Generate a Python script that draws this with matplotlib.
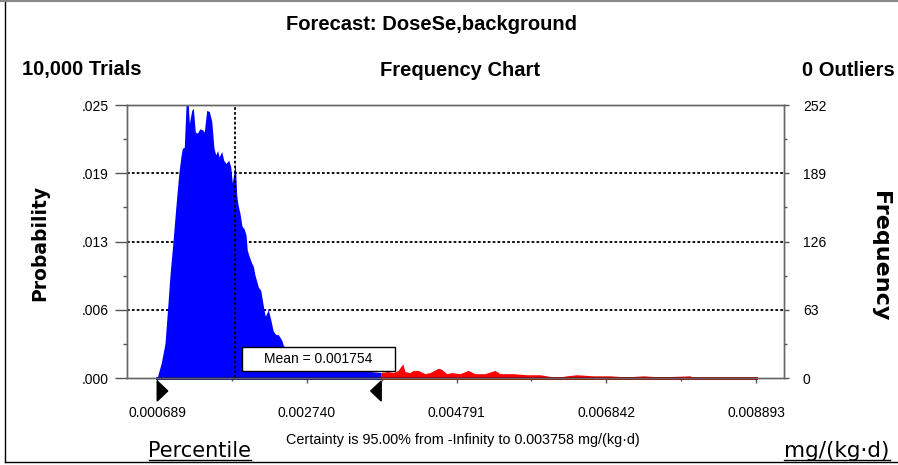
import numpy as np
import matplotlib.pyplot as plt
from matplotlib.patches import Polygon, Rectangle
from matplotlib.lines import Line2D
from matplotlib.transforms import blended_transform_factory

# outline of the forecast frequency chart
# (value in mg/(kg.d), frequency out of 10,000 trials)
blue_x = [0.000689, 0.000707, 0.000741, 0.000768, 0.000796, 0.000830, 0.000864,
          0.000905, 0.000947, 0.000985, 0.001015, 0.001033, 0.001060, 0.001084,
          0.001115, 0.001129, 0.001162, 0.001184, 0.001211, 0.001238, 0.001275,
          0.001312, 0.001334, 0.001367, 0.001403, 0.001436, 0.001467, 0.001491,
          0.001518, 0.001536, 0.001573, 0.001600, 0.001632, 0.001669, 0.001696,
          0.001718, 0.001759, 0.001778, 0.001796, 0.001823, 0.001851, 0.001878,
          0.001906, 0.001923, 0.001951, 0.001984, 0.002006, 0.002029, 0.002074,
          0.002107, 0.002152, 0.002170, 0.002211, 0.002244, 0.002280, 0.002317,
          0.002348, 0.002395, 0.002417, 0.002508, 0.002646, 0.002851, 0.003125,
          0.003399, 0.003605, 0.003758]
blue_freq = [0, 5, 13, 22, 32, 63, 95,
             126, 160, 189, 205, 212, 213, 252,
             252, 235, 247, 249, 227, 226, 230,
             229, 227, 247, 246, 237, 212, 206,
             210, 204, 209, 201, 198, 201, 195,
             180, 198, 169, 160, 152, 140, 138,
             132, 118, 112, 106, 103, 95, 84,
             81, 63, 57, 63, 54, 43, 40,
             40, 35, 30, 24, 18, 13, 9,
             7, 6, 5]
red_x = [0.003758, 0.003850, 0.003924, 0.003990, 0.004053, 0.004084, 0.004150,
         0.004198, 0.004266, 0.004358, 0.004427, 0.004540, 0.004587, 0.004655,
         0.004724, 0.004838, 0.004951, 0.005043, 0.005180, 0.005317, 0.005386,
         0.005568, 0.005752, 0.005934, 0.006116, 0.006208, 0.006300, 0.006437,
         0.006664, 0.006893, 0.007122, 0.007349, 0.007578, 0.007989, 0.008030,
         0.008893]
red_freq = [5, 6, 5, 7, 13, 6, 5,
            7, 7, 4, 5, 9, 8, 4,
            5, 4, 7, 4, 4, 7, 4,
            4, 3, 3, 1, 1, 2, 3,
            2, 2, 1, 2, 1, 2, 0.5,
            0.5]

freq_ticks = [0, 63, 126, 189, 252]
prob_labels = [".000", ".006", ".013", ".019", ".025"]
x_ticks = [0.000689, 0.002740, 0.004791, 0.006842, 0.008893]
x_labels = ["0.000689", "0.002740", "0.004791", "0.006842", "0.008893"]
mean_value = 0.001754
certainty_hi = 0.003758

plt.rcParams['font.family'] = ['Liberation Sans', 'DejaVu Sans']

fig = plt.figure(figsize=(8.98, 4.65), dpi=100)
ax = fig.add_axes([127 / 898, 1 - 378 / 465, 657 / 898, 273 / 465])
ax.set_xlim(0.000275, 0.009277)
ax.set_ylim(0, 252)

dot = (0, (1.5, 1.2))
for f in freq_ticks[1:-1]:
    ax.axhline(f, color='black', lw=1.3, ls=dot, zorder=1)

ax.fill_between(blue_x, blue_freq, color='#0000ff', lw=0, zorder=2)
ax.fill_between(red_x, red_freq, color='#ff0000', lw=0, zorder=2)
ax.plot([blue_x[0], blue_x[-1]], [0, 0], color='#00007a', lw=2, zorder=3, clip_on=False)
ax.plot([red_x[0], red_x[-1]], [0, 0], color='#8b0000', lw=2, zorder=3, clip_on=False)

ax.axvline(mean_value, color='black', lw=1.3, ls=dot, zorder=4)

# mean label box
ax.add_patch(Rectangle((0.1746, 0.0267), 0.2333, 0.088, transform=ax.transAxes,
                       facecolor='white', edgecolor='black', lw=1, zorder=5))
ax.text(0.2913, 0.0707, f"Mean = {mean_value:.6f}", transform=ax.transAxes,
        ha='center', va='center', fontsize=10, zorder=6)

# ticks and frame
ax.set_xticks(x_ticks, x_labels)
ax.set_xticks(np.array(x_ticks[:-1]) + np.diff(x_ticks) / 2, minor=True)
ax.set_yticks(freq_ticks, prob_labels)
ax.set_yticks(np.array(freq_ticks[:-1]) + np.diff(freq_ticks) / 2, minor=True)
ax.tick_params(axis='x', which='major', length=3.5, width=1, color='#555555',
               pad=17, labelsize=10)
ax.tick_params(axis='x', which='minor', length=2.5, width=1, color='#555555')
ax.tick_params(axis='y', which='major', length=9, width=1, color='#555555',
               pad=4, labelsize=10)
ax.tick_params(axis='y', which='minor', length=3, width=1, color='#555555')

ax2 = ax.twinx()
ax2.set_ylim(0, 252)
ax2.set_yticks(freq_ticks, [str(f) for f in freq_ticks])
ax2.set_yticks(np.array(freq_ticks[:-1]) + np.diff(freq_ticks) / 2, minor=True)
ax2.tick_params(axis='y', which='major', length=3.5, width=1, color='#555555',
                pad=10, labelsize=10)
ax2.tick_params(axis='y', which='minor', length=2, width=1, color='#555555')
for a in (ax, ax2):
    for s in a.spines.values():
        s.set_color('#666666')
        s.set_linewidth(1)

# certainty range markers below the axis
tr = blended_transform_factory(ax.transData, ax.transAxes)
x_per_px = (ax.get_xlim()[1] - ax.get_xlim()[0]) / ax.bbox.width
y_per_px = 1 / ax.bbox.height
w = 10.5 * x_per_px
top, mid, bot = -3 * y_per_px, -13 * y_per_px, -23 * y_per_px
lo = blue_x[0]
ax.add_patch(Polygon([(lo, top), (lo, bot), (lo + w, mid)], closed=True,
                     transform=tr, color='black', clip_on=False, zorder=6))
ax.add_patch(Polygon([(certainty_hi, top), (certainty_hi, bot), (certainty_hi - w, mid)],
                     closed=True, transform=tr, color='black', clip_on=False, zorder=6))

# header texts
fig.text(432 / 898, 1 - 24 / 465, "Forecast: DoseSe,background", ha='center',
         va='center', fontsize=14.5, fontweight='bold')
fig.text(22 / 898, 1 - 70 / 465, "10,000 Trials", ha='left', va='center',
         fontsize=14.5, fontweight='bold')
fig.text(460 / 898, 1 - 70 / 465, "Frequency Chart", ha='center', va='center',
         fontsize=14.5, fontweight='bold')
fig.text(895 / 898, 1 - 70 / 465, "0 Outliers", ha='right', va='center',
         fontsize=14.5, fontweight='bold')

fig.text(40 / 898, 1 - 243 / 465, "Probability", rotation=90, ha='center',
         va='center', fontsize=13.5, fontweight='bold', family='DejaVu Sans')
fig.text(880 / 898, 1 - 256 / 465, "Frequency", rotation=270, ha='center',
         va='center', fontsize=16, fontweight='bold', family='DejaVu Sans')

fig.text(463 / 898, 1 - 440 / 465,
         f"Certainty is 95.00% from -Infinity to {certainty_hi:.6f} mg/(kg\u00b7d)",
         ha='center', va='center', fontsize=10.4)

under = []
under.append(fig.text(200 / 898, 1 - 451 / 465, "Percentile", ha='center',
                      va='center', fontsize=15, family='DejaVu Sans'))
under.append(fig.text(837 / 898, 1 - 451 / 465, "mg/(kg\u00b7d)", ha='center',
                      va='center', fontsize=15.5, family='DejaVu Sans'))
fig.canvas.draw()
inv = fig.transFigure.inverted()
for t in under:
    bb = t.get_window_extent().transformed(inv)
    fig.add_artist(Line2D([bb.x0, bb.x1], [1 - 460 / 465] * 2, color='black', lw=1))

# outer border of the chart window
fig.add_artist(Line2D([5 / 898, 5 / 898], [1 - 462 / 465, 1], color='black', lw=1))
fig.add_artist(Line2D([5 / 898, 1], [1 - 462 / 465] * 2, color='black', lw=1))
fig.add_artist(Line2D([0, 1], [1 - 1 / 465] * 2, color='#888888', lw=1.5))

fig.savefig("out.png", dpi=100)
